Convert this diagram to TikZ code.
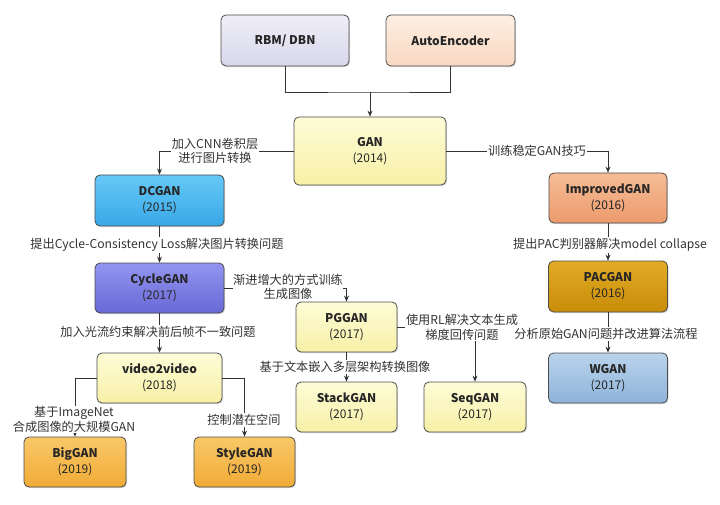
\documentclass[tikz,border=0pt]{standalone}
\usepackage{fontspec}
\setmainfont{Noto Sans CJK SC}
\usetikzlibrary{arrows.meta,shadows}
\begin{document}
\begin{tikzpicture}[x=1pt,y=-1pt,
  box/.style={draw=black!70, line width=0.8pt, rounded corners=5pt, align=center,
    font=\fontsize{12}{16}\selectfont, text=black!85, inner sep=0pt,
    drop shadow={opacity=0.3, shadow xshift=1pt, shadow yshift=-1.2pt}},
  conn/.style={draw=black!80, line width=0.8pt},
  arr/.style={conn, -{Stealth[length=6pt,width=5pt]}},
  lbl/.style={fill=white, inner sep=1pt, font=\fontsize{12.2}{14.5}\selectfont, text=black!80, align=center},
  lav/.style={top color=lavtop, bottom color=lavbot},
  peach/.style={top color=peachtop, bottom color=peachbot},
  yel/.style={top color=yeltop, bottom color=yelbot},
  sky/.style={top color=skytop, bottom color=skybot},
  purp/.style={top color=purptop, bottom color=purpbot},
  salm/.style={top color=salmtop, bottom color=salmbot},
  gold/.style={top color=goldtop, bottom color=goldbot},
  steel/.style={top color=steeltop, bottom color=steelbot},
  orng/.style={top color=orngtop, bottom color=orngbot}]
\definecolor{lavtop}{HTML}{EFEEF8}\definecolor{lavbot}{HTML}{D8D7EA}
\definecolor{peachtop}{HTML}{FDEFE4}\definecolor{peachbot}{HTML}{F8D8C0}
\definecolor{yeltop}{HTML}{FDFCD8}\definecolor{yelbot}{HTML}{F8F0A6}
\definecolor{skytop}{HTML}{66C8F7}\definecolor{skybot}{HTML}{38A8E8}
\definecolor{purptop}{HTML}{9395F0}\definecolor{purpbot}{HTML}{6868D6}
\definecolor{salmtop}{HTML}{F6BC96}\definecolor{salmbot}{HTML}{EC9B6C}
\definecolor{goldtop}{HTML}{E2AC26}\definecolor{goldbot}{HTML}{C88C08}
\definecolor{steeltop}{HTML}{BAD3EC}\definecolor{steelbot}{HTML}{8EB3DA}
\definecolor{orngtop}{HTML}{F9C868}\definecolor{orngbot}{HTML}{F1AB36}

\useasboundingbox (0,0) rectangle (720,505);

% boxes
\node[box,lav,minimum width=128pt,minimum height=51pt] (rbm) at (285,40.5) {\textbf{RBM/ DBN}};
\node[box,peach,minimum width=129pt,minimum height=51pt] (ae) at (450.5,40.5) {\textbf{AutoEncoder}};
\node[box,yel,minimum width=152pt,minimum height=68pt] (gan) at (370,151) {\textbf{GAN}\\(2014)};
\node[box,sky,minimum width=129pt,minimum height=51pt] (dcgan) at (159.5,200.5) {\textbf{DCGAN}\\(2015)};
\node[box,purp,minimum width=129pt,minimum height=50pt] (cyc) at (159.5,288) {\textbf{CycleGAN}\\(2017)};
\node[box,yel,minimum width=125pt,minimum height=50pt] (v2v) at (159.5,378) {\textbf{video2video}\\(2018)};
\node[box,orng,minimum width=102pt,minimum height=50pt] (big) at (75,462) {\textbf{BigGAN}\\(2019)};
\node[box,orng,minimum width=101pt,minimum height=50pt] (style) at (244.5,462) {\textbf{StyleGAN}\\(2019)};
\node[box,yel,minimum width=101pt,minimum height=50pt] (pg) at (346.5,327) {\textbf{PGGAN}\\(2017)};
\node[box,yel,minimum width=101pt,minimum height=50pt] (stack) at (346.5,407) {\textbf{StackGAN}\\(2017)};
\node[box,yel,minimum width=102pt,minimum height=50pt] (seq) at (475,407) {\textbf{SeqGAN}\\(2017)};
\node[box,salm,minimum width=118pt,minimum height=50pt] (imp) at (608,198) {\textbf{ImprovedGAN}\\(2016)};
\node[box,gold,minimum width=119pt,minimum height=51pt] (pac) at (608,286.5) {\textbf{PACGAN}\\(2016)};
\node[box,steel,minimum width=119pt,minimum height=50pt] (wgan) at (608,378) {\textbf{WGAN}\\(2017)};

% connectors
\coordinate (j) at (370,92);
\draw[conn] (rbm.south) |- (j) -| (ae.south);
\draw[arr] (j) -- (gan.north);
\draw[arr] (gan.west) -| (dcgan.north);
\draw[arr] (gan.east) -| (imp.north);
\draw[arr] (dcgan.south) -- (cyc.north);
\draw[arr] (cyc.east) -| (pg.north);
\draw[arr] (cyc.south) -- (v2v.north);
\draw[arr] (pg.east) -| (seq.north);
\draw[arr] (pg.south) -- (stack.north);
\draw[arr] (v2v.west) -| (big.north);
\draw[arr] (v2v.east) -| (style.north);
\draw[arr] (imp.south) -- (pac.north);
\draw[arr] (pac.south) -- (wgan.north);

% labels
\node[lbl] (l1) at (215,151) {加入CNN卷积层\\进行图片转换};
\node[lbl] (l2) at (537,151) {训练稳定GAN技巧};
\node[lbl] (l3) at (157,245) {提出Cycle-Consistency Loss解决图片转换问题};
\node[lbl,inner sep=0.3pt] (l4) at (288,287) {渐进增大的方式训练\\生成图像};
\node[lbl] (l5) at (158,332) {加入光流约束解决前后帧不一致问题};
\node[lbl] (l6) at (462,327.5) {使用RL解决文本生成\\梯度回传问题};
\node[lbl] (l7) at (345,367) {基于文本嵌入多层架构转换图像};
\node[lbl] (l8) at (74,419.5) {基于ImageNet\\合成图像的大规模GAN};
\node[lbl] (l9) at (244,420) {控制潜在空间};
\node[lbl] (l10) at (610,245) {提出PAC判别器解决model collapse};
\node[lbl] (l11) at (606,334) {分析原始GAN问题并改进算法流程};
\end{tikzpicture}
\end{document}
